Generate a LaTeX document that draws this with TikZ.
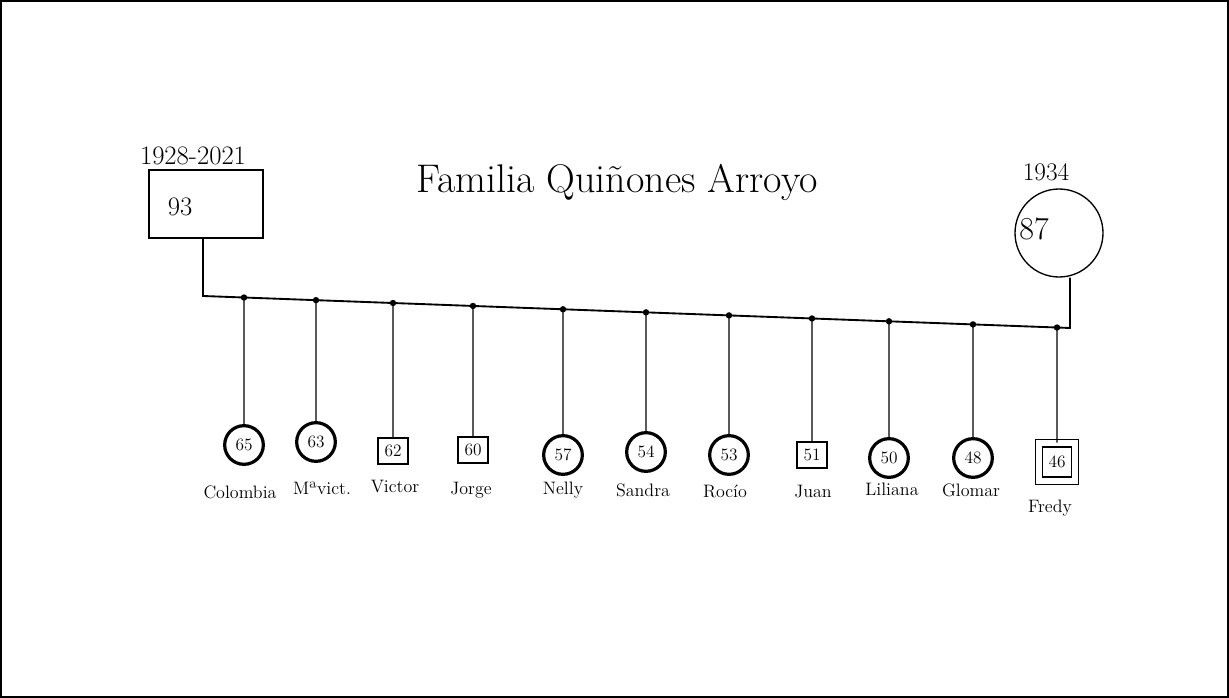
\documentclass[tikz,border=0pt]{standalone}
\usetikzlibrary{calc}

\tikzset{
  mujer/.style={draw, circle, line width=2.4pt, minimum size=29pt, inner sep=0pt, font=\fontsize{13}{13}\selectfont},
  hombre/.style={draw, rectangle, line width=1.3pt, minimum width=23pt, minimum height=19pt, inner sep=0pt, font=\fontsize{13}{13}\selectfont},
  indice/.style={draw, rectangle, line width=1.1pt, double, double distance=4.5pt, minimum width=27pt, minimum height=28pt, inner sep=0pt, font=\fontsize{13}{13}\selectfont},
  nombre/.style={inner sep=0.75pt, font=\fontsize{13.5}{13.5}\selectfont},
  enlace/.style={line width=1pt},
}

\begin{document}
\begin{tikzpicture}[x=0.75pt,y=0.75pt,yscale=-1,xscale=1]
	\useasboundingbox (0,0) rectangle (1229,698);
	% marco
	\draw[line width=1.2pt] (1,1) rectangle (1228,697);

	% Titulo
	\node[font=\fontsize{30}{34}\selectfont] (titulo) at (617,182) {Familia Quiñones Arroyo};

	% Padre
	\node[draw, line width=1.6pt, minimum width=85pt, minimum height=51pt] (padre) at (206,204) {};
	\node[font=\fontsize{20}{20}\selectfont] (e93) at (180,207) {93};
	\node[font=\fontsize{20}{20}\selectfont] (fpadre) at (193,156) {1928-2021};

	% Madre
	\node[draw, circle, line width=1pt, minimum size=66pt] (madre) at (1059,233) {};
	\node[font=\fontsize{24}{24}\selectfont] (e87) at (1034,229) {87};
	\node[font=\fontsize{19}{19}\selectfont] (fmadre) at (1046,172) {1934};

	% Linea de union
	\coordinate (pp) at (203,296);
	\coordinate (mm) at (1070,328);
	\draw[enlace, line width=1.4pt] (padre.south -| pp) -- (pp) -- (mm) -- (madre.south -| mm);

	% Hijos
	\foreach \x/\py/\e/\s/\n/\lx/\ly [count=\i] in {
	    244/445/65/mujer/Colombia/240/492,
	    316/442/63/mujer/Mªvict./322/488,
	    393/451/62/hombre/Victor/395/487,
	    473/450/60/hombre/Jorge/471/490,
	    563/455/57/mujer/Nelly/563/490,
	    646/452/54/mujer/Sandra/643/490,
	    729/455/53/mujer/Rocío/725/491,
	    812/455/51/hombre/Juan/813/492,
	    889/458/50/mujer/Liliana/892/489,
	    973/458/48/mujer/Glomar/971/490,
	    1057/462/46/indice/Fredy/1050/508}{
		\coordinate (j\i) at ($(pp)!{(\x-203)/867}!(mm)$);
		\node[\s] (h\i) at (\x,\py) {\e};
		\node[nombre] (n\i) at (\lx,\ly) {\n};
		\draw[enlace] (j\i) -- (h\i);
		\fill (j\i) circle (2.4pt);
	}

\end{tikzpicture}
\end{document}
